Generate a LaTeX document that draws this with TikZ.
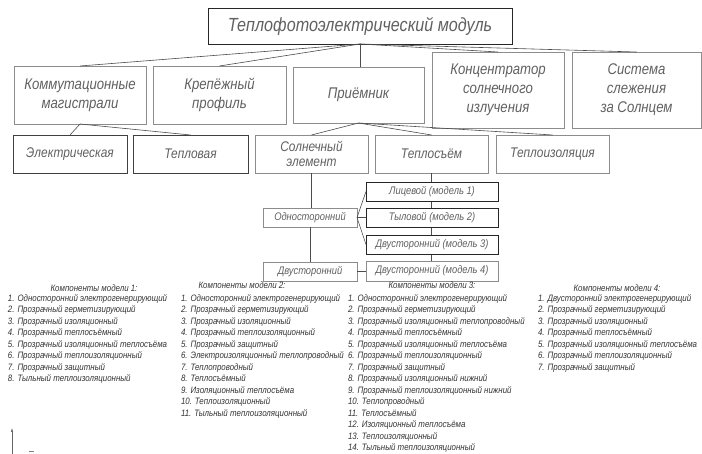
\documentclass[tikz,border=0pt]{standalone}
\usepackage{fontspec}
\usetikzlibrary{arrows.meta}
\newfontfamily\gost[FakeStretch=0.85]{Liberation Sans}
\begin{document}
\begin{tikzpicture}[x=1pt,y=-1pt,
  boxbase/.style={draw=black!75, line width=0.6pt, fill=white, inner sep=0pt, outer sep=0pt, align=center, text=black!62},
  boxlight/.style={boxbase, draw=black!45},
  fa/.style={font=\gost\itshape\fontsize{19}{22}\selectfont},
  fb/.style={font=\gost\itshape\fontsize{15.5}{19}\selectfont},
  fc/.style={font=\gost\itshape\fontsize{14}{15.5}\selectfont},
  fd/.style={font=\gost\itshape\fontsize{11}{13}\selectfont},
  conn/.style={draw=black!70, line width=0.6pt},
  listtext/.style={inner sep=0pt, outer sep=0pt, align=left, text=black!80, font=\gost\itshape\fontsize{9.3}{11.5}\selectfont},
  listhead/.style={inner sep=0pt, outer sep=0pt, text=black!80, font=\gost\itshape\fontsize{9.3}{11.5}\selectfont}]
\useasboundingbox (0,0) rectangle (702,454);
\fill[white] (0,0) rectangle (702,454);

% level 0
\node[boxbase, fa, draw=black!85, minimum width=304pt, minimum height=36pt] (top) at (360,26) {Теплофотоэлектрический модуль};

% level 1
\node[boxlight, fb, minimum width=132pt, minimum height=58pt] (komm) at (80,95) {Коммутационные\\магистрали};
\node[boxlight, fb, minimum width=133pt, minimum height=58pt] (krep) at (219.5,95) {Крепёжный\\профиль};
\node[boxlight, fb, minimum width=131pt, minimum height=56pt] (prie) at (358.5,95) {Приёмник};
\node[boxlight, fb, minimum width=132pt, minimum height=76pt] (konc) at (498,90) {Концентратор\\солнечного\\излучения};
\node[boxlight, fb, minimum width=129pt, minimum height=76pt] (sist) at (636.5,90) {Система\\слежения\\за Солнцем};

% level 2
\node[boxbase, fc, minimum width=114pt, minimum height=38pt] (elek) at (70,154) {Электрическая};
\node[boxbase, fc, minimum width=115pt, minimum height=38pt] (tepl) at (190.5,154) {Тепловая};
\node[boxlight, fc, minimum width=113pt, minimum height=38pt] (solne) at (311.5,154) {Солнечный\\элемент};
\node[boxlight, fc, minimum width=113pt, minimum height=38pt] (teplos) at (431.5,154) {Теплосъём};
\node[boxlight, fc, minimum width=113pt, minimum height=38pt] (teploiz) at (552.5,154) {Теплоизоляция};

% level 3
\draw[conn] (teplos.south) -- (teplos.south |- 0,271);
\node[boxlight, fd, minimum width=94pt, minimum height=19pt] (odno) at (310,217.5) {Односторонний};
\node[boxlight, fd, minimum width=94pt, minimum height=19pt] (dvus) at (310,271.5) {Двусторонний};
\node[boxbase, fd, draw=black!85, minimum width=132pt, minimum height=19pt] (lic) at (432,191.5) {Лицевой (модель 1)};
\node[boxbase, fd, draw=black!85, minimum width=132pt, minimum height=19pt] (tyl) at (432,217.5) {Тыловой (модель 2)};
\node[boxbase, fd, draw=black!85, minimum width=132pt, minimum height=19pt] (m3) at (432,244.5) {Двусторонний (модель 3)};
\node[boxlight, fd, minimum width=132pt, minimum height=20pt] (m4) at (432,271) {Двусторонний (модель 4)};

% connectors
\draw[conn] (top.south) -- (komm.north);
\draw[conn] (top.south) -- (krep.north);
\draw[conn] (top.south) -- (top.south |- prie.north);
\draw[conn] (top.south) -- (konc.north);
\draw[conn] (top.south) -- (sist.north);
\draw[conn] (komm.south) -- (elek.north);
\draw[conn] (komm.south) -- (tepl.north);
\draw[conn] (prie.south) -- (solne.north);
\draw[conn] (prie.south) -- (teplos.north);
\draw[conn] (prie.south) -- (teploiz.north);
\draw[conn] (solne.south) -- (solne.south |- odno.north);
\draw[conn] (odno.south) -- (dvus.north);
\draw[conn] (odno.east) -- (lic.west);
\draw[conn] (odno.east) -- (tyl.west);
\draw[conn] (odno.east) -- (m3.west);
\draw[conn] (dvus.east) -- (dvus.east -| m4.west);

% component lists
\node[listhead] (h1) at (94,288.5) {Компоненты модели 1:};
\node[listtext, anchor=north west] (l1) at (8,294.5) {1. Односторонний электрогенерирующий\\2. Прозрачный герметизирующий\\3. Прозрачный изоляционный\\4. Прозрачный теплосъёмный\\5. Прозрачный изоляционный теплосъёма\\6. Прозрачный теплоизоляционный\\7. Прозрачный защитный\\8. Тыльный теплоизоляционный};

\node[listhead] (h2) at (242,285) {Компоненты модели 2:};
\node[listtext, anchor=north west] (l2) at (181,294.5) {1. Односторонний электрогенерирующий\\2. Прозрачный герметизирующий\\3. Прозрачный изоляционный\\4. Прозрачный теплоизоляционный\\5. Прозрачный защитный\\6. Электроизоляционный теплопроводный\\7. Теплопроводный\\8. Теплосъёмный\\9. Изоляционный теплосъёма\\10. Теплоизоляционный\\11. Тыльный теплоизоляционный};

\node[listhead] (h3) at (432,285) {Компоненты модели 3:};
\node[listtext, anchor=north west] (l3) at (348,294.5) {1. Односторонний электрогенерирующий\\2. Прозрачный герметизирующий\\3. Прозрачный изоляционный теплопроводный\\4. Прозрачный теплосъёмный\\5. Прозрачный изоляционный теплосъёма\\6. Прозрачный теплоизоляционный\\7. Прозрачный защитный\\8. Прозрачный изоляционный нижний\\9. Прозрачный теплоизоляционный нижний\\10. Теплопроводный\\11. Теплосъёмный\\12. Изоляционный теплосъёма\\13. Теплоизоляционный\\14. Тыльный теплоизоляционный};

\node[listhead] (h4) at (617,288.5) {Компоненты модели 4:};
\node[listtext, anchor=north west] (l4) at (538,294.5) {1. Двусторонний электрогенерирующий\\2. Прозрачный герметизирующий\\3. Прозрачный изоляционный\\4. Прозрачный теплосъёмный\\5. Прозрачный изоляционный теплосъёма\\6. Прозрачный теплоизоляционный\\7. Прозрачный защитный};

% small axis mark at bottom left
\coordinate (ax0) at (12,454);
\coordinate (ax1) at (12,428);
\draw[black!60, line width=0.5pt, -{Latex[length=4pt,width=2.5pt]}] (ax0) -- (ax1);
\coordinate (dx0) at (29,451);
\coordinate (dx1) at (34,451);
\draw[black!50, line width=0.5pt] (dx0) -- (dx1);
\end{tikzpicture}
\end{document}
